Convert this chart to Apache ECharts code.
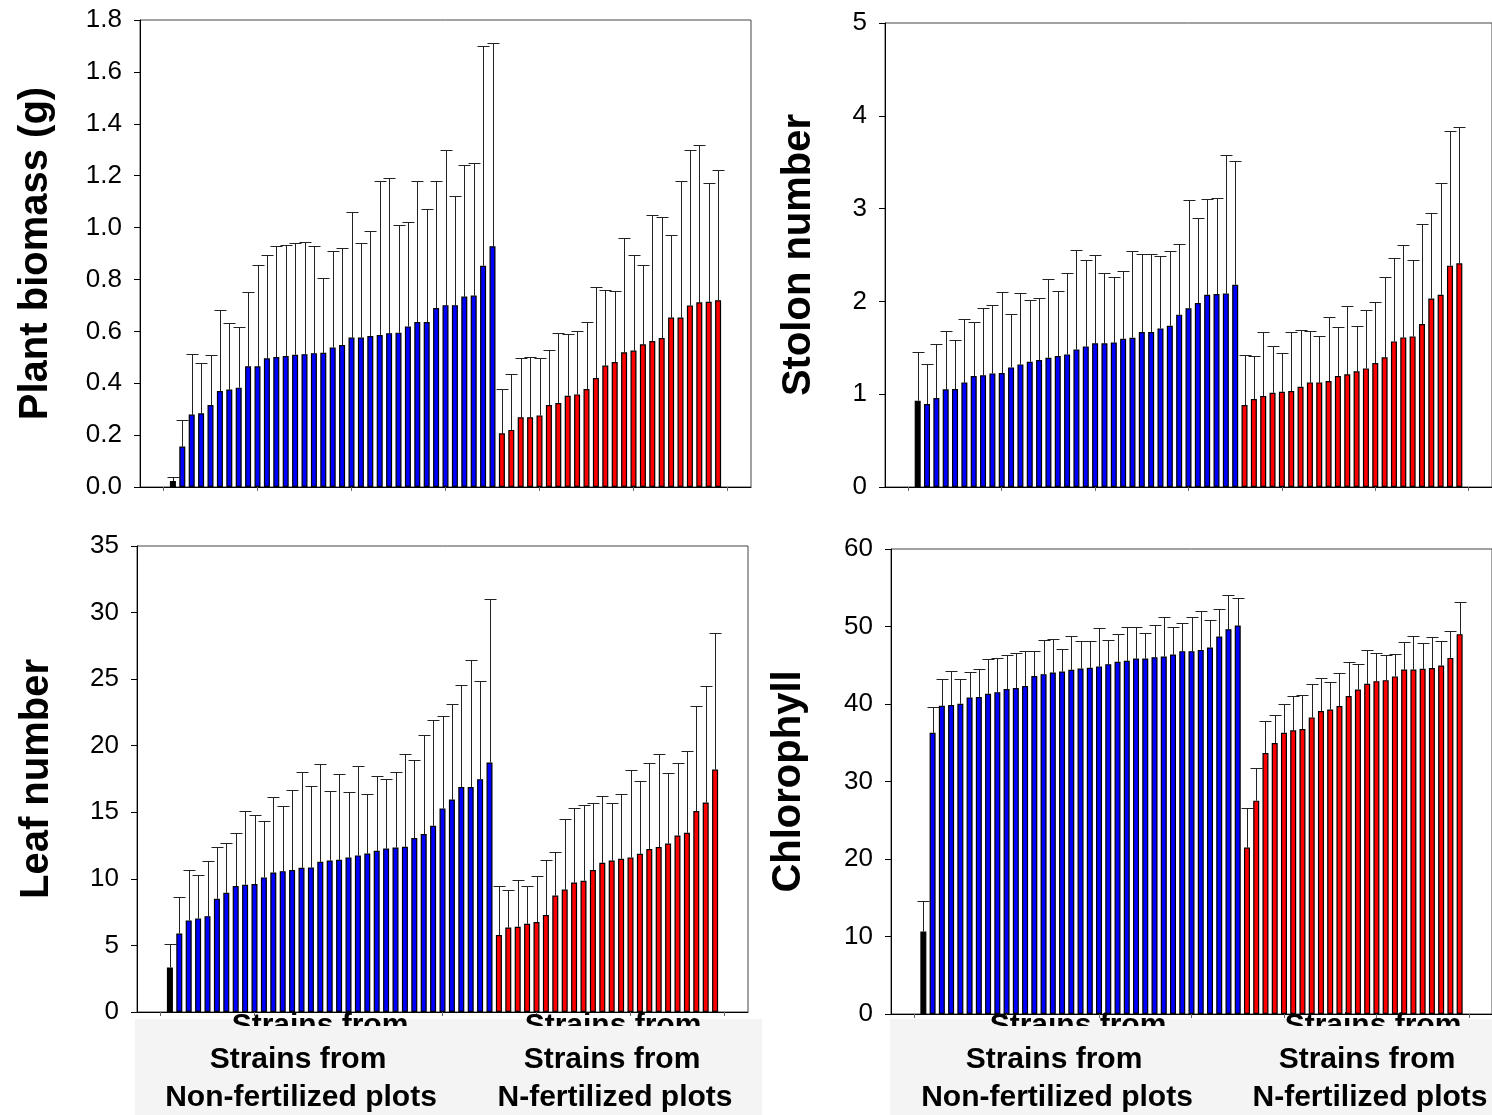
<!DOCTYPE html>
<html>
<head>
<meta charset="utf-8">
<script src="https://cdn.jsdelivr.net/npm/echarts@6/dist/echarts.min.js"></script>
<style>
  html, body { margin: 0; padding: 0; background: #fff; }
  #chart { width: 1492px; height: 1115px; }
</style>
</head>
<body>
<div id="chart"></div>
<script>
// ---- data (bar mean, upper end of error bar) ----
const biomassCtrl = [0.023];
const biomassCtrlUp = [0.04];
const biomassBlue = [0.156, 0.279, 0.284, 0.316, 0.370, 0.376, 0.383, 0.465, 0.465, 0.496, 0.501, 0.505, 0.510, 0.512, 0.516, 0.517, 0.538, 0.547, 0.576, 0.576, 0.582, 0.586, 0.593, 0.595, 0.619, 0.636, 0.636, 0.690, 0.701, 0.701, 0.734, 0.738, 0.853, 0.928];
const biomassBlueUp = [0.26, 0.513, 0.479, 0.508, 0.682, 0.632, 0.617, 0.752, 0.857, 0.893, 0.929, 0.934, 0.942, 0.946, 0.93, 0.805, 0.909, 0.922, 1.06, 0.94, 0.985, 1.18, 1.19, 1.01, 1.02, 1.18, 1.07, 1.18, 1.30, 1.12, 1.24, 1.25, 1.70, 1.71];
const biomassRed = [0.207, 0.22, 0.269, 0.269, 0.276, 0.316, 0.324, 0.352, 0.357, 0.378, 0.42, 0.468, 0.482, 0.519, 0.526, 0.55, 0.563, 0.574, 0.653, 0.653, 0.70, 0.712, 0.714, 0.72];
const biomassRedUp = [0.379, 0.434, 0.497, 0.5, 0.497, 0.529, 0.593, 0.59, 0.6, 0.637, 0.772, 0.759, 0.754, 0.96, 0.894, 0.854, 1.05, 1.04, 0.97, 1.18, 1.30, 1.32, 1.17, 1.22];

const stolonCtrl = [0.93];
const stolonCtrlUp = [1.458];
const stolonBlue = [0.894, 0.959, 1.052, 1.055, 1.127, 1.196, 1.203, 1.224, 1.228, 1.289, 1.321, 1.35, 1.368, 1.393, 1.411, 1.429, 1.483, 1.515, 1.548, 1.548, 1.558, 1.598, 1.609, 1.67, 1.67, 1.709, 1.738, 1.857, 1.925, 1.983, 2.072, 2.08, 2.086, 2.18];
const stolonBlueUp = [1.329, 1.541, 1.684, 1.58, 1.814, 1.774, 1.925, 1.961, 2.097, 1.86, 2.086, 2.011, 2.04, 2.245, 2.108, 2.302, 2.554, 2.442, 2.496, 2.302, 2.263, 2.323, 2.539, 2.51, 2.51, 2.489, 2.539, 2.614, 3.096, 2.894, 3.103, 3.11, 3.573, 3.509];
const stolonRed = [0.883, 0.948, 0.981, 1.016, 1.027, 1.034, 1.081, 1.127, 1.127, 1.142, 1.196, 1.214, 1.246, 1.278, 1.336, 1.397, 1.569, 1.612, 1.623, 1.756, 2.032, 2.072, 2.385, 2.41];
const stolonRedUp = [1.418, 1.407, 1.67, 1.523, 1.44, 1.666, 1.695, 1.684, 1.627, 1.835, 1.724, 1.946, 1.738, 1.903, 1.997, 2.263, 2.468, 2.611, 2.449, 2.834, 2.948, 3.272, 3.836, 3.879];

const leafCtrl = [3.35];
const leafCtrlUp = [5.1];
const leafBlue = [5.9, 6.88, 7.03, 7.2, 8.51, 8.96, 9.46, 9.56, 9.61, 10.11, 10.48, 10.58, 10.66, 10.83, 10.86, 11.28, 11.38, 11.43, 11.61, 11.76, 11.91, 12.11, 12.28, 12.36, 12.41, 13.06, 13.36, 13.99, 15.29, 15.96, 16.89, 16.89, 17.49, 18.74];
const leafBlueUp = [8.6, 10.68, 10.28, 11.31, 12.39, 12.71, 13.46, 15.06, 14.79, 14.36, 16.14, 15.44, 16.67, 17.99, 16.97, 18.64, 16.59, 17.84, 16.52, 18.44, 16.37, 17.69, 17.49, 18.04, 19.37, 18.92, 20.84, 21.92, 22.24, 23.12, 24.59, 26.45, 24.87, 31.03];
const leafRed = [5.78, 6.35, 6.4, 6.63, 6.76, 7.28, 8.75, 9.2, 9.73, 9.86, 10.66, 11.21, 11.38, 11.51, 11.61, 11.88, 12.24, 12.39, 12.66, 13.26, 13.46, 15.09, 15.74, 18.21];
const leafRedUp = [9.48, 9.2, 9.95, 9.5, 10.23, 11.41, 11.98, 14.49, 15.29, 15.51, 15.66, 16.26, 15.66, 16.34, 18.19, 17.36, 18.72, 19.37, 17.94, 18.72, 19.64, 23.02, 24.5, 28.48];

const chlCtrl = [10.65];
const chlCtrlUp = [14.64];
const chlBlue = [36.29, 39.77, 39.86, 40.03, 40.85, 40.89, 41.32, 41.53, 41.92, 42.05, 42.31, 43.6, 43.85, 44.07, 44.2, 44.41, 44.59, 44.67, 44.85, 45.14, 45.44, 45.57, 45.88, 45.88, 46.04, 46.13, 46.39, 46.82, 46.82, 46.98, 47.29, 48.71, 49.65, 50.13];
const chlBlueUp = [39.64, 43.25, 44.28, 43.25, 44.15, 44.46, 45.75, 45.91, 46.34, 46.52, 46.78, 46.86, 48.2, 48.36, 47.07, 48.75, 48.07, 48.14, 49.87, 48.32, 48.97, 49.91, 50.0, 49.1, 50.21, 51.24, 49.95, 50.39, 51.24, 51.97, 50.85, 52.27, 54.12, 53.74];
const chlRed = [21.47, 27.53, 33.67, 34.96, 36.29, 36.6, 36.77, 38.27, 39.09, 39.3, 39.73, 41.02, 41.88, 42.6, 42.95, 43.08, 43.56, 44.46, 44.46, 44.54, 44.63, 44.97, 45.95, 49.01];
const chlRedUp = [26.58, 31.78, 37.84, 38.53, 39.95, 41.02, 41.15, 42.6, 43.38, 42.78, 43.98, 45.44, 45.1, 46.98, 46.52, 46.34, 46.47, 47.94, 48.79, 47.81, 48.66, 48.14, 49.48, 53.17];

const yTitles = ['Plant biomass (g)', 'Stolon number', 'Leaf number', 'Chlorophyll'];
const groupLine1 = 'Strains from';
const groupLine2 = ['Non-fertilized plots', 'N-fertilized plots'];

// ---- layout ----
const FONT = '"Liberation Sans", Arial, Helvetica, sans-serif';
const panels = [
  { ctrl: biomassCtrl, ctrlUp: biomassCtrlUp, blue: biomassBlue, blueUp: biomassBlueUp, red: biomassRed, redUp: biomassRedUp,
    grid: { left: 140, top: 20, width: 611, height: 467 }, max: 1.8, interval: 0.2, dec: 1, gap: 84 },
  { ctrl: stolonCtrl, ctrlUp: stolonCtrlUp, blue: stolonBlue, blueUp: stolonBlueUp, red: stolonRed, redUp: stolonRedUp,
    grid: { left: 885, top: 23, width: 611, height: 464 }, max: 5, interval: 1, dec: 0, gap: 66 },
  { ctrl: leafCtrl, ctrlUp: leafCtrlUp, blue: leafBlue, blueUp: leafBlueUp, red: leafRed, redUp: leafRedUp,
    grid: { left: 137, top: 546, width: 611, height: 466 }, max: 35, interval: 5, dec: 0, gap: 80 },
  { ctrl: chlCtrl, ctrlUp: chlCtrlUp, blue: chlBlue, blueUp: chlBlueUp, red: chlRed, redUp: chlRedUp,
    grid: { left: 891, top: 549, width: 611, height: 465 }, max: 60, interval: 10, dec: 0, gap: 82 },
];

const grids = [], xAxes = [], yAxes = [], series = [];

panels.forEach((p, i) => {
  grids.push(Object.assign({ show: true, borderColor: '#444', borderWidth: 1 }, p.grid));

  xAxes.push({
    gridIndex: i, type: 'value', min: -2.5, max: 62.5,
    axisLine: { show: true, onZero: false, lineStyle: { color: '#000', width: 1 } },
    axisTick: { show: true, customValues: [0, 10, 20, 30, 40, 50, 60], length: 4, lineStyle: { color: '#666' } },
    axisLabel: { show: false },
    splitLine: { show: false },
  });

  yAxes.push({
    gridIndex: i, type: 'value', min: 0, max: p.max, interval: p.interval,
    name: yTitles[i], nameLocation: 'middle', nameGap: p.gap, nameRotate: 90,
    nameTextStyle: { fontFamily: FONT, fontWeight: 'bold', fontSize: 40, color: '#000' },
    axisLine: { show: true, onZero: false, lineStyle: { color: '#000', width: 1 } },
    axisTick: { show: true, inside: false, length: 6, lineStyle: { color: '#000' } },
    axisLabel: {
      fontFamily: FONT, fontSize: 26, color: '#000', margin: 18,
      formatter: v => v.toFixed(p.dec),
    },
    splitLine: { show: false },
  });

  // bars: control at x=1, blue 2..35, red 36..59
  const bars = [], errs = [];
  const add = (vals, ups, start, color) => {
    vals.forEach((v, k) => {
      const x = start + k;
      bars.push({ value: [x, v], itemStyle: { color } });
      errs.push([x, v, ups[k]]);
    });
  };
  add(p.ctrl, p.ctrlUp, 1, '#000000');
  add(p.blue, p.blueUp, 1 + p.ctrl.length, '#0000ff');
  add(p.red, p.redUp, 1 + p.ctrl.length + p.blue.length, '#ff0000');

  series.push({
    type: 'custom', xAxisIndex: i, yAxisIndex: i, z: 1, silent: true,
    encode: { x: 0, y: [1, 2] },
    data: errs,
    renderItem: (params, api) => {
      const base = api.coord([api.value(0), api.value(1)]);
      const top = api.coord([api.value(0), api.value(2)]);
      const x = Math.round(base[0]) + 0.5;
      const ty = Math.round(top[1]) + 0.5;
      const st = { stroke: '#222', lineWidth: 1 };
      return {
        type: 'group',
        children: [
          { type: 'line', shape: { x1: x, y1: base[1], x2: x, y2: ty }, style: st },
          { type: 'line', shape: { x1: x - 6, y1: ty, x2: x + 6, y2: ty }, style: st },
        ],
      };
    },
  });

  series.push({
    type: 'bar', xAxisIndex: i, yAxisIndex: i, z: 2, silent: true,
    barWidth: 6,
    itemStyle: { borderColor: '#000', borderWidth: 1.2 },
    data: bars,
  });
});

// group labels under the two bottom panels (with the clipped leftover labels above)
const graphic = [];
const labelGroups = [
  { x0: 135, x1: 762, centers: [298, 612], ghost: [320, 613] },
  { x0: 890, x1: 1492, centers: [1054, 1367], ghost: [1078, 1373] },
];
labelGroups.forEach(g => {
  graphic.push({ type: 'rect', z: 1, shape: { x: g.x0, y: 1019, width: g.x1 - g.x0, height: 96 }, style: { fill: '#f4f4f4' } });
  g.ghost.forEach(cx => {
    graphic.push({ type: 'text', z: 2, x: cx, y: 1011, style: { text: groupLine1, font: 'bold 30px ' + FONT, fill: '#000', align: 'center', verticalAlign: 'top' } });
  });
  graphic.push({ type: 'rect', z: 3, shape: { x: g.x0, y: 1026, width: g.x1 - g.x0, height: 89 }, style: { fill: '#f4f4f4' } });
  g.centers.forEach((cx, k) => {
    graphic.push({ type: 'text', z: 4, x: cx, y: 1060, style: { text: groupLine1, font: 'bold 30px ' + FONT, fill: '#000', align: 'center', verticalAlign: 'middle' } });
    graphic.push({ type: 'text', z: 4, x: cx + 3, y: 1098, style: { text: groupLine2[k], font: 'bold 30px ' + FONT, fill: '#000', align: 'center', verticalAlign: 'middle' } });
  });
});

const chart = echarts.init(document.getElementById('chart'));
chart.setOption({
  animation: false,
  backgroundColor: '#fff',
  grid: grids,
  xAxis: xAxes,
  yAxis: yAxes,
  series: series,
  graphic: graphic,
});
</script>
</body>
</html>
